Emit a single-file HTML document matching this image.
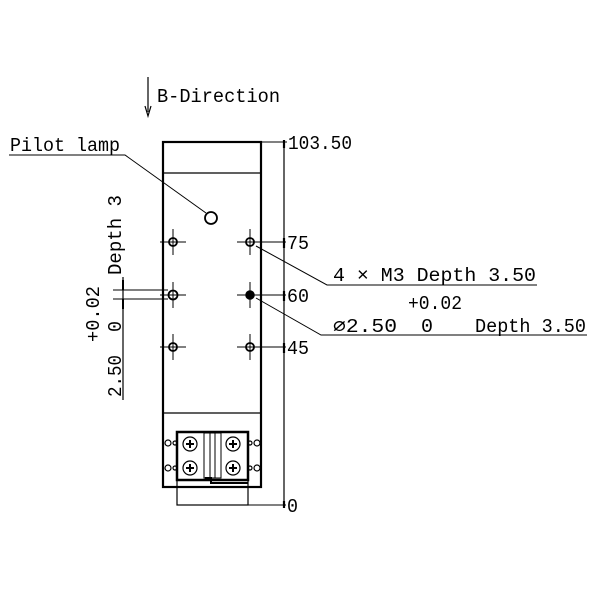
<!DOCTYPE html>
<html><head><style>body{margin:0;background:#fff}svg{display:block}</style></head>
<body>
<svg width="600" height="600" viewBox="0 0 600 600" xmlns="http://www.w3.org/2000/svg" font-family="Liberation Mono, monospace" font-size="19" fill="#000">
<g stroke="#000" fill="none">
<line x1="148" y1="77" x2="148" y2="112" stroke-width="1.2"/>
<path d="M145,106 L148,116 L151,106" stroke-width="1.2"/>
<polyline points="9,155 125,155 206,213" stroke-width="1"/>
<rect x="163" y="142" width="98" height="345" stroke-width="2.2"/>
<line x1="163" y1="173" x2="261" y2="173" stroke-width="1.2"/>
<line x1="163" y1="413" x2="261" y2="413" stroke-width="1.2"/>
<circle cx="211" cy="218" r="6" stroke-width="1.8"/>
<g stroke-width="1">
<line x1="160" y1="242" x2="186" y2="242"/><line x1="173" y1="229" x2="173" y2="255"/>
<line x1="237" y1="242" x2="263" y2="242"/><line x1="250" y1="229" x2="250" y2="255"/>
<line x1="160" y1="295" x2="186" y2="295"/><line x1="173" y1="282" x2="173" y2="308"/>
<line x1="237" y1="295" x2="263" y2="295"/><line x1="250" y1="282" x2="250" y2="308"/>
<line x1="160" y1="347" x2="186" y2="347"/><line x1="173" y1="334" x2="173" y2="360"/>
<line x1="237" y1="347" x2="263" y2="347"/><line x1="250" y1="334" x2="250" y2="360"/>
</g>
<g stroke-width="1.8">
<circle cx="173" cy="242" r="4"/><circle cx="250" cy="242" r="4"/>
<circle cx="173" cy="295" r="4.5"/><circle cx="173" cy="347" r="4"/><circle cx="250" cy="347" r="4"/>
</g>
<circle cx="250" cy="295" r="4" fill="#000" stroke-width="1.5"/>
<line x1="284" y1="142" x2="284" y2="506" stroke-width="1.2"/>
<line x1="248" y1="142" x2="287" y2="142" stroke-width="1"/>
<g stroke-width="1">
<line x1="250" y1="242" x2="286" y2="242"/>
<line x1="250" y1="295" x2="286" y2="295"/>
<line x1="250" y1="347" x2="286" y2="347"/>
<line x1="177" y1="505" x2="286" y2="505"/>
</g>
<g stroke-width="2.2">
<line x1="284" y1="140" x2="284" y2="148"/><line x1="284" y1="238" x2="284" y2="248"/>
<line x1="284" y1="291" x2="284" y2="301"/><line x1="284" y1="343" x2="284" y2="353"/>
<line x1="284" y1="501" x2="284" y2="508"/>
</g>
<polyline points="256,246 327,285 537,285" stroke-width="1"/>
<polyline points="256,298 321,335 587,335" stroke-width="1"/>
<line x1="113" y1="290" x2="168" y2="290" stroke-width="1"/>
<line x1="113" y1="299" x2="168" y2="299" stroke-width="1"/>
<line x1="123" y1="277" x2="123" y2="400" stroke-width="1.2"/>
<line x1="123" y1="280" x2="123" y2="290" stroke-width="2"/>
<line x1="123" y1="299" x2="123" y2="309" stroke-width="2"/>
<rect x="177" y="432" width="71" height="48" stroke-width="2.5"/>
<rect x="177" y="480" width="71" height="25" stroke-width="1.2"/>
<rect x="204" y="433" width="17" height="45" stroke-width="1"/>
<line x1="210" y1="433" x2="210" y2="478" stroke-width="1"/>
<line x1="215" y1="433" x2="215" y2="478" stroke-width="1"/>
<polyline points="205,478 211,478 211,483 248,483" stroke-width="2"/>
<g stroke-width="1.2">
<circle cx="190" cy="444" r="7"/><circle cx="233" cy="444" r="7"/>
<circle cx="190" cy="468" r="7"/><circle cx="233" cy="468" r="7"/>
</g>
<g stroke-width="2">
<path d="M186,444h8M190,440v8M229,444h8M233,440v8M186,468h8M190,464v8M229,468h8M233,464v8"/>
</g>
<g stroke-width="1.2">
<circle cx="168" cy="443" r="3"/><circle cx="257" cy="443" r="3"/>
<circle cx="168" cy="468" r="3"/><circle cx="257" cy="468" r="3"/>
<circle cx="175" cy="443" r="2"/><circle cx="250" cy="443" r="2"/>
<circle cx="175" cy="468" r="2"/><circle cx="250" cy="468" r="2"/>
</g>
</g>
<text x="157" y="102" textLength="123" lengthAdjust="spacingAndGlyphs">B-Direction</text>
<text x="10" y="151" textLength="110" lengthAdjust="spacingAndGlyphs">Pilot lamp</text>
<text x="288" y="149" textLength="64" lengthAdjust="spacingAndGlyphs">103.50</text>
<text x="287" y="249" textLength="22" lengthAdjust="spacingAndGlyphs">75</text>
<text x="287" y="302" textLength="22" lengthAdjust="spacingAndGlyphs">60</text>
<text x="287" y="354" textLength="22" lengthAdjust="spacingAndGlyphs">45</text>
<text x="287" y="512" textLength="11" lengthAdjust="spacingAndGlyphs">0</text>
<text x="333" y="281" textLength="203" lengthAdjust="spacingAndGlyphs">4 × M3 Depth 3.50</text>
<text x="408" y="309" textLength="54" lengthAdjust="spacingAndGlyphs">+0.02</text>
<text x="333" y="332" textLength="64" lengthAdjust="spacingAndGlyphs">∅2.50</text>
<text x="421" y="332" textLength="12" lengthAdjust="spacingAndGlyphs">0</text>
<text x="475" y="332" textLength="111" lengthAdjust="spacingAndGlyphs">Depth 3.50</text>
<text transform="translate(121,275) rotate(-90)" textLength="80" lengthAdjust="spacingAndGlyphs">Depth 3</text>
<text transform="translate(99,342) rotate(-90)" textLength="56" lengthAdjust="spacingAndGlyphs">+0.02</text>
<text transform="translate(121,332) rotate(-90)" textLength="11" lengthAdjust="spacingAndGlyphs">0</text>
<text transform="translate(121,397) rotate(-90)" textLength="42" lengthAdjust="spacingAndGlyphs">2.50</text>
</svg>
</body></html>
